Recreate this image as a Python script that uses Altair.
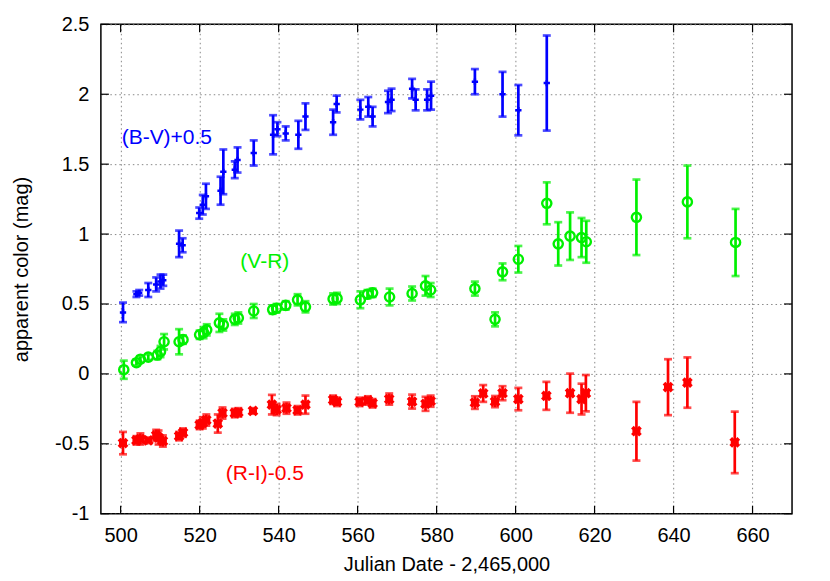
import altair as alt
import pandas as pd

# ---- data ----
bv_jd = [500.6, 504.0, 504.7, 507.0, 509.0, 510.1, 510.8, 514.8, 515.7, 519.9, 520.8, 521.6,
         525.3, 526.0, 528.9, 529.6, 533.7, 538.6, 539.7, 541.8, 545.0, 546.8, 553.8, 554.7,
         560.7, 562.7, 563.8, 567.7, 568.6, 573.8, 574.7, 577.6, 578.6, 589.7, 596.7, 600.7, 607.9]
bv_val = [0.44, 0.57, 0.58, 0.60, 0.64, 0.66, 0.67, 0.93, 0.92, 1.15, 1.21, 1.27,
          1.31, 1.445, 1.46, 1.53, 1.58, 1.71, 1.75, 1.72, 1.71, 1.84, 1.80, 1.93,
          1.89, 1.91, 1.84, 1.945, 1.96, 2.04, 1.96, 1.96, 1.99, 2.09, 2.00, 1.886, 2.08]
bv_err = [0.07, 0.02, 0.02, 0.05, 0.05, 0.05, 0.04, 0.095, 0.05, 0.04, 0.07, 0.09,
          0.10, 0.16, 0.06, 0.09, 0.09, 0.14, 0.05, 0.05, 0.10, 0.095, 0.09, 0.06,
          0.07, 0.07, 0.07, 0.08, 0.08, 0.07, 0.075, 0.075, 0.10, 0.09, 0.16, 0.18, 0.34]

vr_jd = [500.8, 504.0, 505.0, 507.0, 509.3, 510.1, 511.0, 514.8, 515.8, 520.0, 521.0, 521.8,
         525.0, 526.0, 528.9, 529.8, 533.7, 538.5, 539.5, 541.8, 544.8, 546.8, 553.8, 554.8,
         560.7, 562.5, 563.8, 568.1, 573.8, 577.2, 578.5, 589.7, 594.8, 596.7, 600.7, 607.9,
         610.8, 613.8, 616.7, 617.9, 630.6, 643.5, 655.7]
vr_val = [0.03, 0.08, 0.105, 0.12, 0.135, 0.16, 0.23, 0.23, 0.245, 0.28, 0.295, 0.315,
          0.365, 0.35, 0.39, 0.40, 0.45, 0.46, 0.47, 0.49, 0.53, 0.48, 0.536, 0.54,
          0.53, 0.57, 0.58, 0.55, 0.575, 0.63, 0.60, 0.61, 0.39, 0.73, 0.82, 1.22,
          0.93, 0.985, 0.975, 0.945, 1.12, 1.23, 0.94]
vr_err = [0.065, 0.02, 0.02, 0.02, 0.03, 0.04, 0.055, 0.09, 0.03, 0.03, 0.04, 0.04,
          0.065, 0.04, 0.04, 0.04, 0.05, 0.03, 0.03, 0.03, 0.04, 0.04, 0.04, 0.04,
          0.06, 0.03, 0.03, 0.06, 0.05, 0.07, 0.05, 0.05, 0.05, 0.06, 0.095, 0.15,
          0.155, 0.17, 0.14, 0.15, 0.27, 0.26, 0.24]

ri_jd = [500.6, 504.0, 505.0, 507.0, 509.0, 509.6, 510.7, 514.8, 515.8, 520.0, 520.8, 521.7,
         524.6, 525.8, 528.9, 529.8, 533.5, 538.3, 539.5, 542.0, 544.8, 546.8, 553.8, 554.8,
         560.5, 562.6, 563.8, 568.0, 573.8, 577.2, 578.5, 589.7, 591.8, 594.8, 596.7, 600.7,
         607.8, 613.8, 616.7, 617.8, 630.6, 638.6, 643.5, 655.5]
ri_val = [-0.495, -0.475, -0.465, -0.475, -0.44, -0.455, -0.48, -0.445, -0.42, -0.365, -0.35, -0.33,
          -0.355, -0.28, -0.28, -0.275, -0.265, -0.22, -0.255, -0.245, -0.26, -0.22, -0.185, -0.20,
          -0.20, -0.19, -0.21, -0.18, -0.198, -0.214, -0.195, -0.205, -0.14, -0.198, -0.138, -0.18,
          -0.157, -0.138, -0.18, -0.138, -0.41, -0.095, -0.062, -0.49]
ri_err = [0.08, 0.03, 0.04, 0.02, 0.04, 0.05, 0.04, 0.03, 0.03, 0.03, 0.04, 0.04,
          0.065, 0.04, 0.03, 0.03, 0.02, 0.07, 0.04, 0.04, 0.03, 0.065, 0.03, 0.03,
          0.03, 0.03, 0.03, 0.04, 0.05, 0.05, 0.04, 0.045, 0.06, 0.04, 0.05, 0.08,
          0.10, 0.14, 0.11, 0.13, 0.21, 0.20, 0.18, 0.22]

series_names = ["(B-V)+0.5", "(V-R)", "(R-I)-0.5"]
series_colors = ["#0000ff", "#00f000", "#ff0000"]
label_jd = [511.7, 536.5, 536.5]
label_val = [1.69, 0.80, -0.715]

x_ticks = [500, 520, 540, 560, 580, 600, 620, 640, 660]
y_ticks = [-1, -0.5, 0, 0.5, 1, 1.5, 2, 2.5]

# ---- tables ----
def mk(name, jd, val, err):
    return pd.DataFrame({"series": name, "jd": jd, "val": val,
                         "lo": [v - e for v, e in zip(val, err)],
                         "hi": [v + e for v, e in zip(val, err)]})

df = pd.concat([mk(series_names[0], bv_jd, bv_val, bv_err),
                mk(series_names[1], vr_jd, vr_val, vr_err),
                mk(series_names[2], ri_jd, ri_val, ri_err)], ignore_index=True)
labels = pd.DataFrame({"series": series_names, "jd": label_jd, "val": label_val})
xt = pd.DataFrame({"t": x_ticks})
yt = pd.DataFrame({"t": y_ticks})

FONT = "Liberation Sans"
W, H = 692, 490

xs = alt.Scale(domain=[495, 670], nice=False, zero=False)
ys = alt.Scale(domain=[-1, 2.5], nice=False, zero=False)
cs = alt.Scale(domain=series_names, range=series_colors)

xax = alt.Axis(values=x_ticks, title="Julian Date - 2,465,000", grid=True, ticks=False,
               domain=False, labelPadding=12, titlePadding=9, labelExpr="'' + datum.value")
yax = alt.Axis(values=y_ticks, title="apparent color (mag)", grid=True, ticks=False,
               domain=False, labelPadding=12, titlePadding=23, labelExpr="'' + datum.value")

C = alt.Color("series:N", scale=cs, legend=None)


def xq(f):
    return alt.X(f, scale=xs, axis=xax)


def yq(f):
    return alt.Y(f, scale=ys, axis=yax)


base = alt.Chart(df)
bars = base.mark_rule(strokeWidth=2.7).encode(
    x=xq("jd:Q"), y=yq("lo:Q"), y2="hi:Q", color=C)
cap_lo = base.mark_tick(orient="horizontal", size=8, thickness=2.7).encode(
    x=xq("jd:Q"), y=yq("lo:Q"), color=C)
cap_hi = base.mark_tick(orient="horizontal", size=8, thickness=2.7).encode(
    x=xq("jd:Q"), y=yq("hi:Q"), color=C)

pts_bv = alt.Chart(df[df.series == series_names[0]]).mark_point(
    shape="M-1,0L1,0M0,-1L0,1", size=40, strokeWidth=2.5, filled=False, opacity=1).encode(
    x=xq("jd:Q"), y=yq("val:Q"), color=C)
pts_vr = alt.Chart(df[df.series == series_names[1]]).mark_point(
    shape="circle", size=85, strokeWidth=2.4, filled=False, opacity=1).encode(
    x=xq("jd:Q"), y=yq("val:Q"), color=C)
pts_ri = alt.Chart(df[df.series == series_names[2]]).mark_point(
    shape="M-1,-1L1,1M-1,1L1,-1M-1,0L1,0", size=65, strokeWidth=3.8, filled=False, opacity=1).encode(
    x=xq("jd:Q"), y=yq("val:Q"), color=C)

txt = alt.Chart(labels).mark_text(font=FONT, fontSize=21, align="center", baseline="middle").encode(
    x=xq("jd:Q"), y=yq("val:Q"), color=C, text="series:N")

# inward tick marks on all four sides
tk_b = alt.Chart(xt).mark_rule(color="black", strokeWidth=1.2).encode(
    x=xq("t:Q"), y=alt.value(H), y2=alt.value(H - 8))
tk_t = alt.Chart(xt).mark_rule(color="black", strokeWidth=1.2).encode(
    x=xq("t:Q"), y=alt.value(0), y2=alt.value(8))
tk_l = alt.Chart(yt).mark_rule(color="black", strokeWidth=1.2).encode(
    y=yq("t:Q"), x=alt.value(0), x2=alt.value(8))
tk_r = alt.Chart(yt).mark_rule(color="black", strokeWidth=1.2).encode(
    y=yq("t:Q"), x=alt.value(W), x2=alt.value(W - 8))

chart = alt.layer(bars, cap_lo, cap_hi, pts_bv, pts_vr, pts_ri, txt,
                  tk_b, tk_t, tk_l, tk_r).properties(
    width=W, height=H,
    autosize=alt.AutoSizeParams(type="none"),
    padding={"left": 93, "top": 16, "right": 30, "bottom": 66},
).configure_view(
    stroke="black", strokeWidth=1.5
).configure_axis(
    labelFont=FONT, titleFont=FONT, labelFontSize=20, titleFontSize=20,
    labelColor="black", titleColor="black", titleFontWeight="normal",
    gridColor="#888888", gridDash=[1.5, 3], gridWidth=1, gridOpacity=1
)

chart.save("out.html", embed_options={"renderer": "svg", "actions": False})
